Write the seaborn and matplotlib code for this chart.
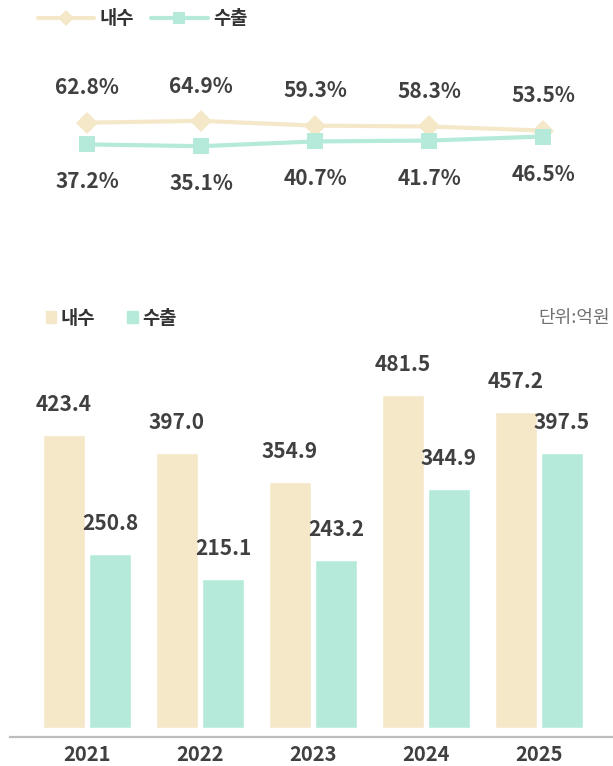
import pandas as pd
import numpy as np
import seaborn as sns
import matplotlib.pyplot as plt
from matplotlib.lines import Line2D
from matplotlib.patches import Patch

years = ['2021', '2022', '2023', '2024', '2025']
series = ['내수', '수출']
share_dom = [62.8, 64.9, 59.3, 58.3, 53.5]
share_exp = [37.2, 35.1, 40.7, 41.7, 46.5]
sales_dom = [423.4, 397.0, 354.9, 481.5, 457.2]
sales_exp = [250.8, 215.1, 243.2, 344.9, 397.5]
colors = {'내수': '#F5E8C9', '수출': '#B5EADB'}
txt = '#404040'

sns.set_theme(style='white')
plt.rcParams['font.family'] = ['Noto Sans CJK KR', 'DejaVu Sans']

fig = plt.figure(figsize=(6.13, 7.66), dpi=100)
W, H = 613, 766

# ---- top: share line chart
share = pd.DataFrame({
    'idx': list(range(5)) * 2,
    'val': share_dom + share_exp,
    'kind': ['내수'] * 5 + ['수출'] * 5,
})
ax1 = fig.add_axes([10 / W, 1 - 200 / H, 1 - 10 / W, 140 / H])
sns.lineplot(data=share, x='idx', y='val', hue='kind', style='kind',
             palette=colors, markers={'내수': 'D', '수출': 's'}, dashes=False,
             linewidth=3, markersize=11.5, markeredgewidth=0, legend=False, ax=ax1)
ax1.set_xlim((10 - 87) / 114, (613 - 87) / 114)
ax1.set_ylim(-28.2, 136.5)
ax1.axis('off')
for i in range(5):
    ax1.annotate(f'{share_dom[i]}%', (i, share_dom[i]), xytext=(0, 25),
                 textcoords='offset points', ha='center', va='center',
                 fontsize=15, fontweight='bold', color=txt)
    ax1.annotate(f'{share_exp[i]}%', (i, share_exp[i]), xytext=(0, -27),
                 textcoords='offset points', ha='center', va='center',
                 fontsize=15, fontweight='bold', color=txt)

h1 = [Line2D([], [], color=colors['내수'], lw=3, marker='D', ms=8, mew=0),
      Line2D([], [], color=colors['수출'], lw=3, marker='s', ms=9, mew=0)]
fig.legend(h1, series, loc='center left', bbox_to_anchor=(38 / W, 1 - 19 / H),
           ncol=2, frameon=False, borderpad=0, borderaxespad=0,
           handlelength=3.0, handletextpad=0.3, columnspacing=0.9,
           prop={'size': 13.5, 'weight': 'bold'}, labelcolor='#333333')

# ---- bottom: sales bars
sales = pd.DataFrame({
    'year': years * 2,
    'val': sales_dom + sales_exp,
    'kind': ['내수'] * 5 + ['수출'] * 5,
})
ax2 = fig.add_axes([10 / W, 1 - 728 / H, 1 - 10 / W, 388 / H])
sns.barplot(data=sales, x='year', y='val', hue='kind', hue_order=series,
            palette=colors, width=0.814, gap=0.086, saturation=1,
            legend=False, ax=ax2)
ax2.set_xlim((10 - 87) / 113, (613 - 87) / 113)
ax2.set_ylim(0, 388 / 0.692)
for c, vals in zip(ax2.containers, [sales_dom, sales_exp]):
    for bar, v in zip(c, vals):
        ax2.annotate(f'{v:.1f}', (bar.get_x() + bar.get_width() / 2, v),
                     xytext=(0, 22), textcoords='offset points',
                     ha='center', va='center', fontsize=15,
                     fontweight='bold', color=txt)
for s in ['left', 'right', 'top']:
    ax2.spines[s].set_visible(False)
ax2.spines['bottom'].set_color('#BDBDBD')
ax2.spines['bottom'].set_linewidth(1.6)
ax2.spines['bottom'].set_position(('outward', 6.5))
ax2.set_yticks([])
ax2.set_xlabel('')
ax2.set_ylabel('')
ax2.tick_params(axis='x', length=0, pad=5, labelsize=14.5, labelcolor=txt)
for t in ax2.get_xticklabels():
    t.set_fontweight('bold')

h2 = [Patch(color=colors['내수']), Patch(color=colors['수출'])]
fig.legend(h2, series, loc='center left', bbox_to_anchor=(46 / W, 1 - 318 / H),
           ncol=2, frameon=False, borderpad=0, borderaxespad=0,
           handlelength=0.55, handleheight=0.55, handletextpad=0.25,
           columnspacing=1.7, prop={'size': 13.5, 'weight': 'bold'},
           labelcolor='#333333')
fig.text(538 / W, 1 - 318 / H, '단위:억원', ha='left', va='center',
         fontsize=13, color='#707070')

fig.savefig('out.png', dpi=100)
